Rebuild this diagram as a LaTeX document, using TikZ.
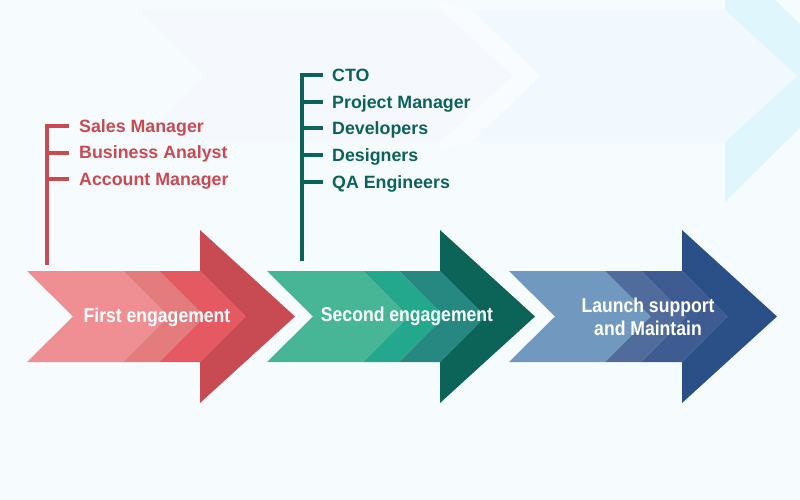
\documentclass[tikz,border=0pt]{standalone}
\usepackage{fontspec}
\setmainfont{Liberation Sans}
\newfontfamily\condf[FakeStretch=0.88]{Liberation Sans}
\usetikzlibrary{calc}
\definecolor{bgc}{HTML}{F6FBFE}
\definecolor{ghostband}{HTML}{F1F9FE}
\definecolor{ghostlav}{HTML}{F5F9FE}
\definecolor{ghostwhite}{HTML}{F9FCFF}
\definecolor{ghostcyan}{HTML}{DEF6FC}
\definecolor{rA}{HTML}{EF8F93}
\definecolor{rB}{HTML}{E47B7D}
\definecolor{rC}{HTML}{E55A62}
\definecolor{rD}{HTML}{C84A52}
\definecolor{gA}{HTML}{47B697}
\definecolor{gB}{HTML}{23A88D}
\definecolor{gC}{HTML}{268880}
\definecolor{gD}{HTML}{0C6459}
\definecolor{bA}{HTML}{7199BF}
\definecolor{bB}{HTML}{4F6C9D}
\definecolor{bC}{HTML}{3E5C92}
\definecolor{bD}{HTML}{2B4F87}
\definecolor{redlab}{HTML}{C94A53}
\definecolor{greenlab}{HTML}{0D6359}
\newcommand\drawArrow[5]{%
  \fill[#2] (#1,271) -- ++(96,0) -- ++(46,45.5) -- ++(-46,45.5) -- ++(-96,0) -- ++(46,-45.5) -- cycle;
  \fill[#3] (#1+96,271) -- ++(36,0) -- ++(46,45.5) -- ++(-46,45.5) -- ++(-36,0) -- ++(46,-45.5) -- cycle;
  \fill[#4] (#1+132,271) -- ++(41,0) -- ++(46,45.5) -- ++(-46,45.5) -- ++(-41,0) -- ++(46,-45.5) -- cycle;
  \fill[#5] (#1+173,230) -- (#1+268,316.5) -- (#1+173,403) -- (#1+173,362) -- (#1+219,316.5) -- (#1+173,271) -- cycle;
}
\tikzset{
  arrowtext/.style={text=white, inner sep=0pt, font=\condf\bfseries\fontsize{20}{23}\selectfont, align=center},
  redlabel/.style={text=redlab, inner sep=0pt, anchor=base west, font=\bfseries\fontsize{17.8}{20}\selectfont},
  greenlabel/.style={text=greenlab, inner sep=0pt, anchor=base west, font=\bfseries\fontsize{17.8}{20}\selectfont},
  redline/.style={draw=redlab, line width=4pt},
  greenline/.style={draw=greenlab, line width=4pt}
}
\begin{document}
\begin{tikzpicture}[x=1pt,y=-1pt]
\useasboundingbox (0,0) rectangle (800,500);
\fill[bgc] (0,0) rectangle (800,500);
% ghost background arrow
\fill[ghostlav] (140,10) -- (440,10) -- (513,76) -- (440,142) -- (140,142) -- (206,76) -- cycle;
\fill[ghostwhite] (430,0) -- (472,10) -- (541,76) -- (472,142) -- (430,152) -- (513,76) -- cycle;
\fill[ghostband] (472,10) -- (725,10) -- (725,142) -- (472,142) -- (541,76) -- cycle;
\fill[ghostcyan] (725,-50) -- (852,76) -- (725,202) -- cycle;
\fill[ghostband] (725,10) -- (797,76) -- (725,142) -- cycle;
% main arrows
\drawArrow{27}{rA}{rB}{rC}{rD}
\drawArrow{267}{gA}{gB}{gC}{gD}
\drawArrow{509}{bA}{bB}{bC}{bD}
\node[arrowtext, anchor=base] (a1) at (157,322) {First engagement};
\node[arrowtext, anchor=base] (a2) at (407,321.5) {Second engagement};
\node[arrowtext, anchor=base] (a3) at (648,335) {Launch support\\and Maintain};
% red labels
\node[redlabel] (r1) at (79,132.4) {Sales Manager};
\node[redlabel] (r2) at (79,158.9) {Business Analyst};
\node[redlabel] (r3) at (79,185.4) {Account Manager};
\coordinate (rtop) at (47,124);
\coordinate (rbot) at (47,265);
\draw[redline] (rtop) -- (rbot);
\foreach \n in {r1,r2,r3}{
  \draw[redline] ($(\n.base west)+(-34,-6.4)$) -- ++(24,0);
}
% green labels
\node[greenlabel] (g1) at (332,81.4) {CTO};
\node[greenlabel] (g2) at (332,108.1) {Project Manager};
\node[greenlabel] (g3) at (332,134.8) {Developers};
\node[greenlabel] (g4) at (332,161.5) {Designers};
\node[greenlabel] (g5) at (332,188.2) {QA Engineers};
\coordinate (gtop) at (302,73);
\coordinate (gbot) at (302,261);
\draw[greenline] (gtop) -- (gbot);
\foreach \n in {g1,g2,g3,g4,g5}{
  \draw[greenline] ($(\n.base west)+(-32,-6.4)$) -- ++(23,0);
}
\end{tikzpicture}
\end{document}
